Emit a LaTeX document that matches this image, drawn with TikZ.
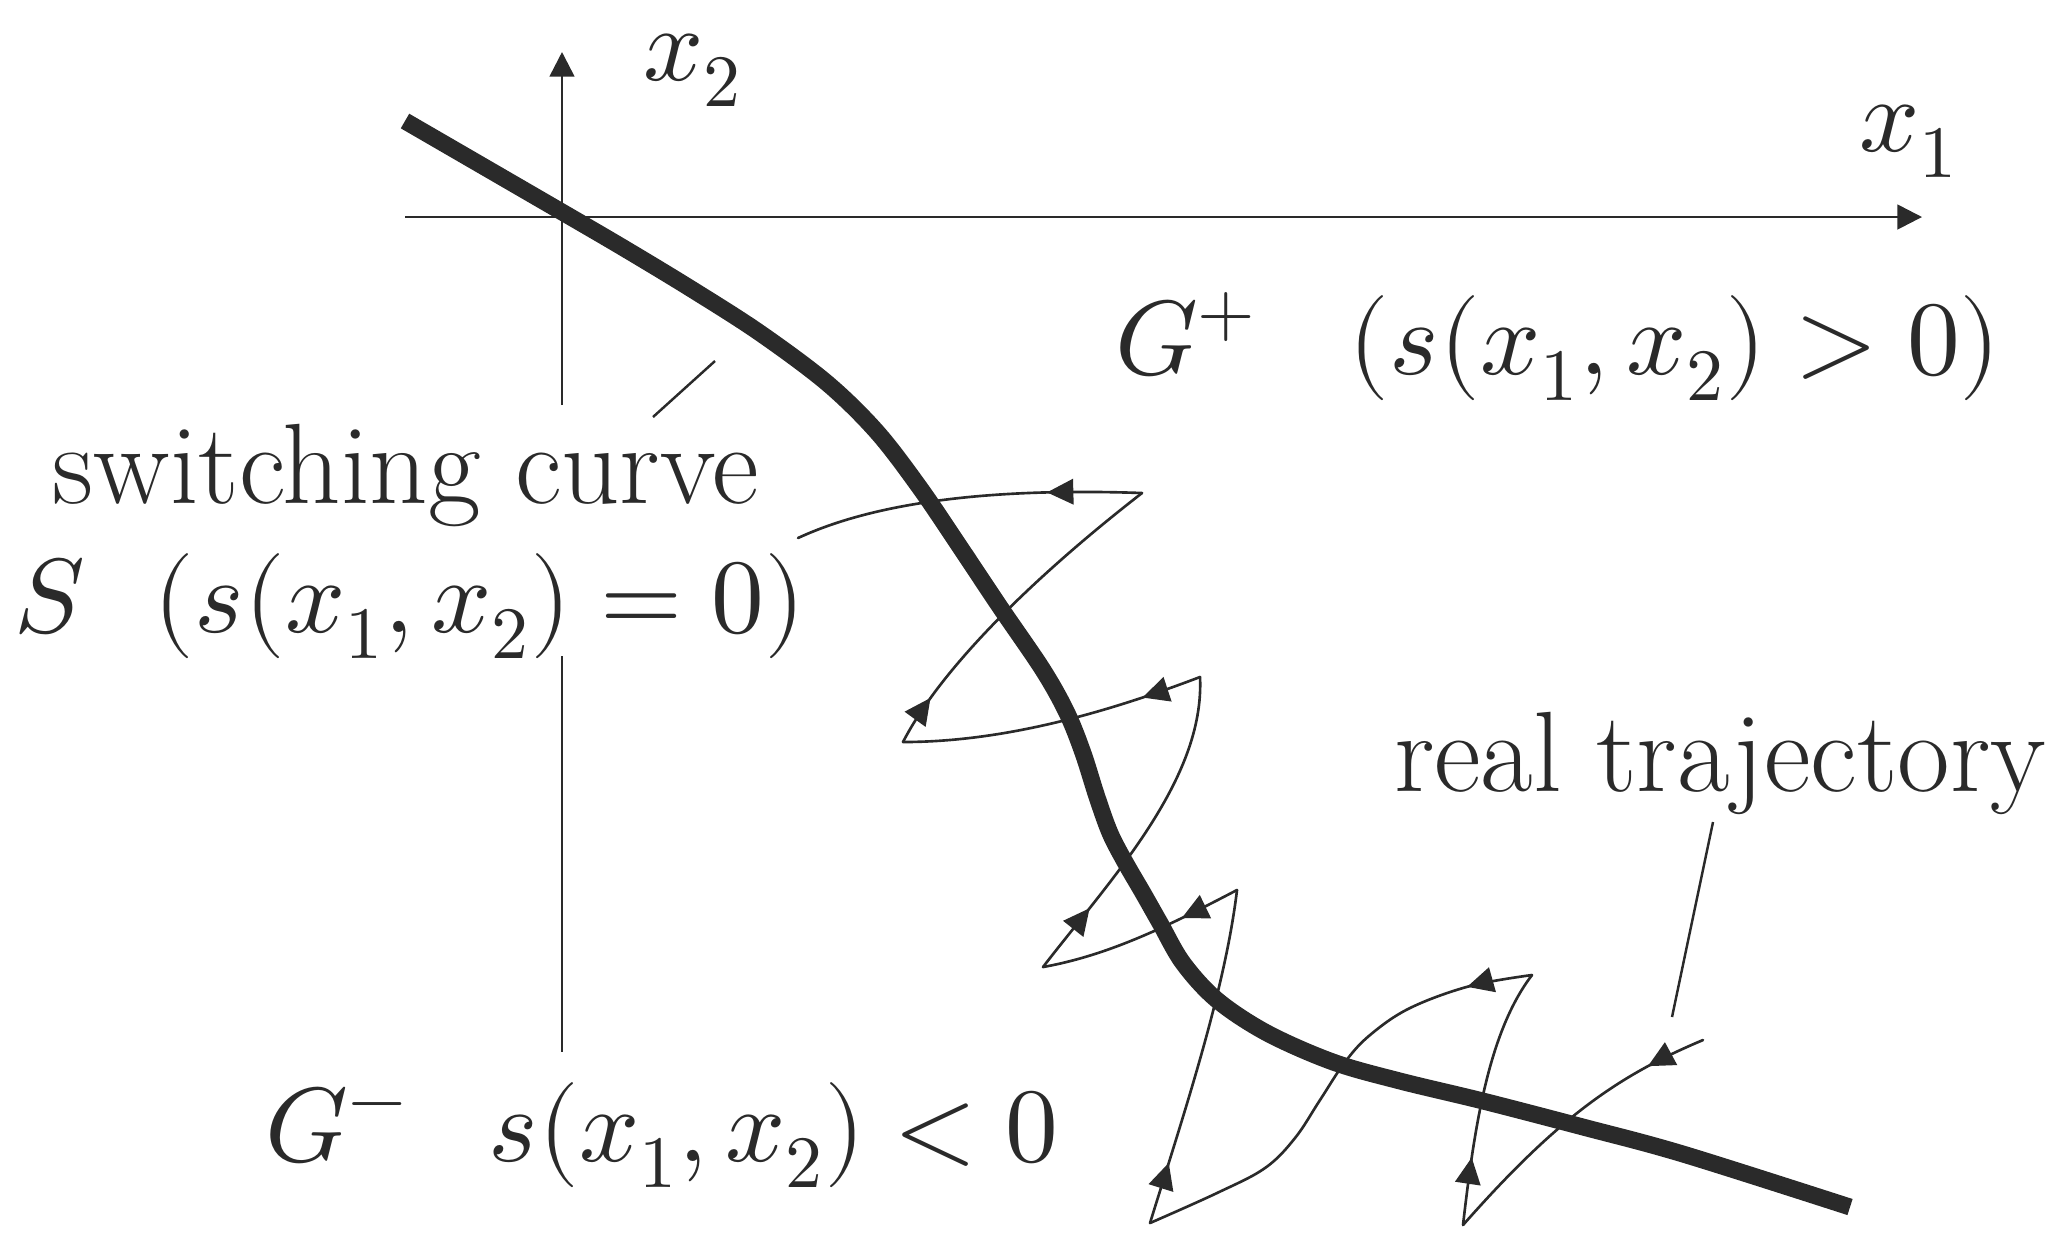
\documentclass[tikz,border=0pt]{standalone}
\usepackage{fontspec}
\usepackage{unicode-math}
\setmathfont{Latin Modern Math}
\usetikzlibrary{arrows.meta,decorations.markings}
\definecolor{ink}{HTML}{2A2A2A}
\tikzset{
  axis/.style={draw=ink,line width=0.75pt},
  axtip/.style={-{Triangle[length=7pt,width=7pt]}},
  swcurve/.style={draw=ink,line width=4.8pt},
  traj/.style={draw=ink,line width=0.75pt,line cap=round},
  arr/.style={postaction={decorate},decoration={markings,mark=at position #1 with {\arrow{Triangle[length=7.5pt,width=7.2pt]}}}},
  lbl/.style={text=ink,font=\fontsize{30}{36}\selectfont,inner sep=0pt},
  txt/.style={text=ink,font=\fontsize{32.5}{38}\selectfont,inner sep=0pt},
  lead/.style={draw=ink,line width=0.7pt},
}
\begin{document}
\begin{tikzpicture}[x=0.01cm,y=-0.01cm]
\useasboundingbox (0,0) rectangle (2052,1244);
% axes
\coordinate (xs) at (405,217);
\coordinate (xe) at (1922,217);
\coordinate (ytop) at (562,52);
\coordinate (yup) at (562,405);
\coordinate (ylow) at (562,656);
\coordinate (ybot) at (562,1052);
\draw[axis,axtip] (xs) -- (xe);
\draw[axis,axtip] (yup) -- (ytop);
\draw[axis] (ylow) -- (ybot);
% switching curve
\draw[swcurve] plot[smooth,tension=0.55] coordinates {(405,121) (562,212) (627,250) (693,290) (760,333) (827,383) (877,432) (920,488) (960,547) (1000,607) (1043,670) (1067,713) (1083,753) (1097,797) (1110,833) (1125,862) (1143,893) (1160,923) (1183,963) (1217,1000) (1267,1033) (1333,1062) (1400,1081) (1483,1101) (1583,1127) (1683,1154) (1850,1207)};
% trajectory corners
\coordinate (p0) at (1703,1040);
\coordinate (c1) at (1463,1225);
\coordinate (c2) at (1532,975);
\coordinate (c3) at (1150,1223);
\coordinate (c4) at (1237,890);
\coordinate (c5) at (1043,967);
\coordinate (c6) at (1200,677);
\coordinate (c7) at (903,742);
\coordinate (c8) at (1142,493);
\coordinate (pe) at (798,538);
\draw[traj,arr=0.61cm] (p0) .. controls (1620,1075) and (1560,1115) .. (c1);
\draw[traj,arr=0.68cm] (c1) .. controls (1475,1120) and (1490,1030) .. (c2);
\draw[traj,arr=0.66cm] plot[smooth,tension=0.6] coordinates {(1532,975) (1470,986) (1410,1008) (1370,1035) (1345,1062) (1320,1100) (1295,1138) (1265,1168) (1217,1193) (1150,1223)};
\draw[traj,arr=0.63cm] (c3) .. controls (1185,1110) and (1225,990) .. (c4);
\draw[traj,arr=0.62cm] (c4) .. controls (1170,925) and (1110,955) .. (c5);
\draw[traj,arr=0.75cm] (c5) .. controls (1110,880) and (1205,780) .. (c6);
\draw[traj,arr=0.61cm] (c6) .. controls (1100,715) and (1000,742) .. (c7);
\draw[traj,arr=0.52cm] (c7) .. controls (940,670) and (1030,580) .. (c8);
\draw[traj,arr=0.95cm] (c8) .. controls (1000,488) and (880,500) .. (pe);
% labels
\node[lbl,anchor=base] (x2l) at (693,80) {$x_2$};
\node[lbl,anchor=base] (x1l) at (1909,151) {$x_1$};
\node[lbl,anchor=base] (gp) at (1558,374) {$G^{+}\hspace{0.87em}(s(x_1,x_2)>0)$};
\node[txt,anchor=base] (swc) at (406,503) {switching curve};
\node[lbl,anchor=base] (sl) at (410,632) {$S\hspace{0.65em}(s(x_1,x_2)=0)$};
\node[txt,anchor=base] (rt) at (1720,791) {real trajectory};
\node[lbl,anchor=base] (gm) at (662,1161) {$G^{-}\hspace{0.77em}s(x_1,x_2)<0$};
% leaders
\coordinate (l1a) at (653,417);
\coordinate (l1b) at (715,361);
\coordinate (l2a) at (1713,822);
\coordinate (l2b) at (1672,1017);
\draw[lead] (l1a) -- (l1b);
\draw[lead] (l2a) -- (l2b);
\end{tikzpicture}
\end{document}
